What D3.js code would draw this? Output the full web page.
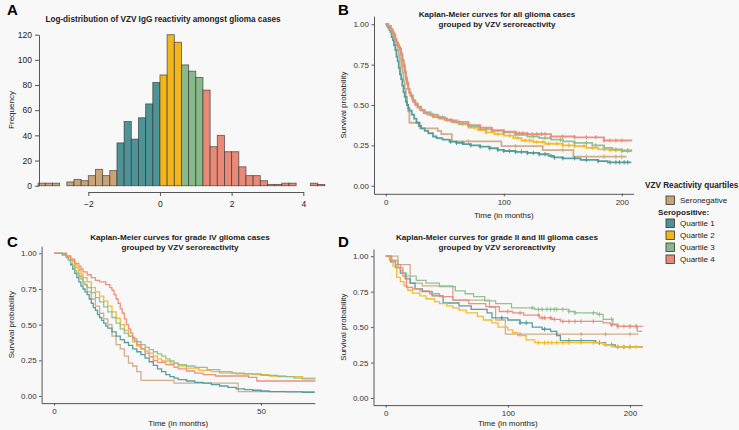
<!DOCTYPE html>
<html><head><meta charset="utf-8">
<script src="https://cdn.jsdelivr.net/npm/d3@7"></script>
<style>
html,body{margin:0;padding:0;background:#f8f8f8;}
svg{display:block;font-family:"Liberation Sans",Arial,Helvetica,sans-serif;}
</style></head>
<body>
<svg id="c" width="739" height="430"></svg>
<script>
// ---------- DATA ----------
const groups = ["Seronegative","Quartile 1","Quartile 2","Quartile 3","Quartile 4"];
const groupColors = ["#c9a479","#4e9497","#f2b51e","#88b98a","#e98a78"];
const lineColors  = ["#cfa987","#4f9a9a","#f5b628","#8dbf8e","#ec8b7b"];

// Histogram: bin start (log VZV IgG), counts; bin width 0.2
const histBinStart = [-3.4,-3.2,-3.0,-2.8,-2.6,-2.4,-2.2,-2.0,-1.8,-1.6,-1.4,-1.2,-1.0,-0.8,-0.6,-0.4,-0.2,0.0,0.2,0.4,0.6,0.8,1.0,1.2,1.4,1.6,1.8,2.0,2.2,2.4,2.6,2.8,3.0,3.2,3.4,3.6,3.8,4.0,4.2,4.4];
const histCounts   = [2,2,2,0,3,5,4,8,13,8,12,34,51,37,54,65,82,88,120,114,96,91,86,76,31,40,27,27,15,8,8,4,1,1,2,2,0,0,2,1];
const histBinWidth = 0.2;
const groupBreaks  = [-1.2, 0, 0.6, 1.2]; // seroneg | Q1 | Q2 | Q3 | Q4
const histYTicks = [0,20,40,60,80,100,120];
const histXTicks = [-2,0,2,4];
const kmYTicks = [0,0.25,0.5,0.75,1];

// KM curves [time, survival] per group (order as groups)
const kmAll = [
  [[0,1],[2,0.99],[4,0.97],[6,0.94],[8,0.9],[9,0.87],[10,0.84],[11,0.81],[12,0.78],[13,0.74],[14,0.7],[15,0.65],[16,0.6],[17,0.55],[18,0.5],[19,0.46],[20,0.39],[29,0.355],[44,0.34],[47,0.32],[56,0.275],[98,0.245],[133,0.22],[159,0.18],[204,0.18]],
  [[0,1],[1,0.99],[2,0.98],[3,0.965],[4,0.95],[5,0.92],[6,0.9],[7,0.87],[8,0.84],[9,0.8],[10,0.77],[11,0.73],[12,0.69],[13,0.66],[14,0.62],[15,0.58],[16,0.55],[17,0.52],[18,0.5],[19,0.48],[20,0.465],[22,0.44],[24,0.415],[26,0.39],[28,0.37],[30,0.355],[33,0.34],[36,0.325],[40,0.305],[43,0.295],[48,0.285],[54,0.273],[60,0.265],[66,0.258],[72,0.25],[80,0.242],[88,0.232],[95,0.222],[100,0.215],[110,0.21],[120,0.203],[130,0.195],[138,0.185],[142,0.175],[150,0.17],[165,0.16],[180,0.152],[188,0.145],[208,0.145]],
  [[0,1],[2,0.99],[4,0.97],[5,0.955],[6,0.94],[7,0.925],[8,0.905],[9,0.89],[10,0.875],[11,0.86],[12,0.84],[13,0.81],[14,0.775],[15,0.74],[16,0.7],[17,0.66],[18,0.63],[19,0.6],[20,0.575],[21,0.555],[23,0.525],[25,0.505],[27,0.485],[30,0.465],[33,0.45],[38,0.435],[44,0.42],[50,0.405],[56,0.395],[62,0.38],[70,0.36],[78,0.345],[85,0.33],[92,0.32],[100,0.31],[108,0.295],[115,0.28],[125,0.27],[135,0.26],[150,0.25],[160,0.245],[170,0.235],[180,0.225],[190,0.22],[208,0.215]],
  [[0,1],[2,0.99],[4,0.97],[5,0.955],[6,0.94],[7,0.92],[8,0.9],[9,0.885],[10,0.87],[11,0.855],[12,0.84],[13,0.81],[14,0.77],[15,0.74],[16,0.7],[17,0.66],[18,0.63],[19,0.6],[20,0.58],[21,0.56],[23,0.53],[25,0.51],[27,0.49],[30,0.47],[33,0.455],[38,0.44],[44,0.425],[50,0.41],[56,0.395],[62,0.385],[70,0.37],[80,0.35],[90,0.34],[100,0.33],[110,0.315],[120,0.305],[130,0.295],[140,0.285],[150,0.275],[160,0.265],[175,0.25],[185,0.235],[192,0.225],[200,0.215],[208,0.21]],
  [[0,1],[2,0.99],[4,0.97],[5,0.96],[6,0.95],[7,0.93],[8,0.91],[9,0.89],[10,0.875],[11,0.86],[12,0.85],[13,0.82],[14,0.78],[15,0.75],[16,0.71],[17,0.67],[18,0.64],[19,0.6],[20,0.575],[21,0.56],[22,0.54],[23,0.52],[25,0.5],[27,0.485],[29,0.47],[32,0.45],[35,0.44],[40,0.425],[46,0.415],[52,0.405],[60,0.395],[70,0.375],[80,0.36],[90,0.345],[100,0.335],[110,0.325],[120,0.32],[140,0.305],[160,0.3],[185,0.28],[208,0.275]]
];
const censorAll = [
  [70,110,150,170,185,195,200],
  [55,60,65,72,80,88,95,100,105,110,115,120,125,130,135,140,143,150,160,170,180,190,195,198,202,205],
  [60,75,85,95,105,112,118,122,128,133,138,145,150,155,160,168,175,185,190,195,200,205],
  [40,48,52,58,65,72,85,100,110,125,135,148,160,170,178,185,195,200,205],
  [45,55,62,70,80,90,100,110,113,116,120,124,128,132,135,140,150,160,170,178,185,190,195,200]
];

const kmGrade4 = [
  [[0,1],[3,0.98],[4,0.95],[5,0.9],[6,0.84],[7,0.78],[8,0.73],[9,0.68],[10,0.63],[11,0.58],[12,0.54],[13,0.5],[14,0.42],[15,0.36],[16,0.33],[17,0.28],[18,0.23],[19,0.21],[20,0.17],[21,0.11],[29,0.09],[44.5,0.03],[63,0.03]],
  [[0,1],[2,0.99],[3,0.97],[3.5,0.95],[4,0.92],[4.5,0.89],[5,0.86],[5.5,0.83],[6,0.8],[6.5,0.77],[7,0.75],[7.5,0.73],[8,0.71],[8.5,0.68],[9,0.65],[9.5,0.62],[10,0.6],[10.5,0.57],[11,0.55],[11.5,0.53],[12,0.51],[12.5,0.49],[13,0.475],[14,0.45],[15,0.42],[16,0.395],[17,0.375],[18,0.355],[19,0.33],[20,0.31],[21,0.29],[22,0.265],[23,0.24],[24,0.215],[25,0.19],[26,0.17],[27,0.15],[28,0.135],[29,0.125],[30,0.115],[32,0.105],[34,0.095],[36,0.09],[38,0.08],[40,0.07],[42,0.06],[44,0.05],[46,0.045],[48,0.04],[50,0.035],[52,0.03],[56,0.028],[60,0.025],[63,0.025]],
  [[0,1],[3,0.98],[4,0.96],[4.5,0.94],[5,0.92],[5.5,0.9],[6,0.88],[6.5,0.855],[7,0.83],[8,0.8],[9,0.76],[10,0.73],[11,0.7],[12,0.665],[13,0.63],[14,0.59],[15,0.545],[16,0.5],[17,0.46],[18,0.42],[19,0.38],[20,0.35],[21,0.33],[22,0.315],[23,0.3],[24,0.28],[25,0.26],[26,0.245],[28,0.23],[30,0.21],[32,0.195],[35,0.18],[38,0.17],[40,0.16],[44,0.155],[48,0.15],[52,0.14],[56,0.135],[60,0.125],[63,0.12]],
  [[0,1],[2,0.99],[3,0.97],[3.5,0.95],[4,0.93],[4.5,0.91],[5,0.88],[5.5,0.86],[6,0.84],[6.5,0.82],[7,0.8],[7.5,0.78],[8,0.76],[9,0.725],[10,0.69],[11,0.66],[12,0.625],[13,0.59],[14,0.55],[15,0.51],[16,0.47],[17,0.44],[18,0.42],[19,0.4],[20,0.38],[21,0.36],[22,0.34],[23,0.325],[24,0.31],[25,0.295],[26,0.28],[27,0.26],[28,0.245],[29,0.23],[30,0.22],[32,0.21],[34,0.2],[37,0.185],[40,0.17],[43,0.16],[46,0.155],[50,0.145],[54,0.135],[58,0.125],[60,0.12],[63,0.115]],
  [[0,1],[3,0.98],[4,0.96],[5,0.93],[6,0.91],[6.5,0.89],[7,0.87],[8,0.85],[9,0.83],[10,0.81],[11,0.8],[12.5,0.78],[13.5,0.76],[14,0.74],[14.5,0.71],[15,0.68],[15.5,0.65],[16,0.61],[16.5,0.58],[17,0.54],[17.5,0.5],[18,0.47],[18.5,0.44],[19,0.41],[19.5,0.385],[20,0.36],[21,0.33],[22,0.3],[23,0.275],[24,0.25],[25,0.235],[27,0.22],[29,0.2],[30,0.19],[32,0.175],[34,0.16],[36,0.15],[39,0.14],[47,0.13],[49,0.105],[63,0.1]]
];
const censorGrade4 = [[],[],[],[],[]];

const kmGrade23 = [
  [[0,1],[10,0.94],[20,0.81],[30,0.79],[55,0.69],[85,0.64],[90,0.55],[98,0.45],[207,0.45]],
  [[0,1],[4,0.96],[8,0.92],[12,0.88],[16,0.84],[20,0.81],[24,0.77],[30,0.75],[38,0.72],[47,0.67],[60,0.65],[70,0.625],[83,0.6],[87,0.565],[100,0.55],[110,0.53],[120,0.5],[128,0.485],[135,0.47],[140,0.44],[143,0.405],[172,0.39],[180,0.375],[188,0.36],[210,0.355]],
  [[0,1],[3,0.97],[6,0.93],[9,0.85],[12,0.82],[15,0.79],[18,0.76],[22,0.74],[28,0.72],[33,0.7],[40,0.68],[44,0.665],[50,0.65],[55,0.635],[60,0.62],[66,0.6],[75,0.575],[80,0.55],[87,0.53],[92,0.5],[100,0.48],[104,0.46],[108,0.44],[115,0.41],[122,0.39],[178,0.375],[185,0.36],[210,0.355]],
  [[0,1],[5,0.97],[10,0.92],[14,0.88],[17,0.86],[25,0.83],[33,0.81],[44,0.785],[57,0.755],[65,0.735],[72,0.715],[81,0.685],[90,0.665],[103,0.635],[122,0.625],[150,0.61],[155,0.6],[173,0.59],[178,0.555],[186,0.52],[190,0.505],[206,0.47],[210,0.47]],
  [[0,1],[4,0.97],[8,0.94],[12,0.9],[14,0.86],[17,0.78],[22,0.77],[28,0.755],[36,0.735],[44,0.715],[55,0.69],[68,0.665],[82,0.645],[93,0.61],[104,0.6],[113,0.585],[126,0.565],[136,0.555],[143,0.54],[178,0.53],[184,0.515],[190,0.505],[210,0.5]]
];
const censorGrade23 = [
  [110,140,160,180,200],
  [95,110,115,130,150,160,175,185,190,195,200],
  [125,130,133,136,140,145,150,160,170,180,190,195,200,205],
  [120,125,128,132,135,138,140,145,150,155,170,175,185,190,195,200,205],
  [100,110,125,128,130,135,138,145,150,155,160,170,185,190,200,205]
];

// ---------- DRAW ----------
const svg = d3.select("#c");

function groupOf(v){ let g=0; for(const b of groupBreaks){ if(v>=b-1e-9) g++; } return g; }

// Panel A
(function(){
  const x = d3.scaleLinear().domain([-2,4]).range([88.3,303.3]);
  const y = d3.scaleLinear().domain([0,120]).range([185.7,34.7]);
  const g = svg.append("g");
  g.selectAll("rect").data(histCounts).join("rect")
    .attr("x",(d,i)=>x(histBinStart[i]))
    .attr("width",(d,i)=>x(histBinStart[i]+histBinWidth)-x(histBinStart[i]))
    .attr("y",d=>y(d)).attr("height",d=>y(0)-y(d))
    .attr("fill",(d,i)=>groupColors[groupOf(histBinStart[i]+histBinWidth/2)])
    .attr("stroke","#2a2a2a").attr("stroke-opacity",0.65).attr("stroke-width",0.9)
    .style("display",d=>d>0?null:"none");
  const ya = g.append("g").attr("transform","translate(39,0)")
    .call(d3.axisLeft(y).tickValues(histYTicks).tickSize(4).tickSizeOuter(0).tickPadding(3));
  const xa = g.append("g").attr("transform","translate(0,192)")
    .call(d3.axisBottom(x).tickValues(histXTicks).tickSize(4).tickSizeOuter(0).tickPadding(5).tickFormat(d3.format("")));
  [ya,xa].forEach(a=>{a.selectAll("path,line").attr("stroke","#555");a.selectAll("text").attr("fill","#222").style("font-size","8.5px");});
  g.append("text").attr("transform","translate(14,110) rotate(-90)").attr("text-anchor","middle")
    .style("font-size","8px").attr("fill","#222").text("Frequency");
  g.append("text").attr("x",163).attr("y",22).attr("text-anchor","middle").style("font-size","8.2px").style("font-weight","bold").attr("fill","#222")
    .text("Log-distribution of VZV IgG reactivity amongst glioma cases");
  g.append("text").attr("x",7).attr("y",15).style("font-size","15px").style("font-weight","bold").text("A");
})();

function survAt(curve,t){ let s=curve[0][1]; for(const p of curve){ if(p[0]<=t) s=p[1]; else break; } return s; }

function kmPanel(o){
  const x = d3.scaleLinear().domain(o.xdom).range(o.xr);
  const y = d3.scaleLinear().domain([-0.05,1.05]).range(o.yr);
  const g = svg.append("g");
  const line = d3.line().x(d=>x(d[0])).y(d=>y(d[1])).curve(d3.curveStepAfter);
  [0,1,2,3,4].forEach(i=>{
    g.append("path").attr("d",line(o.curves[i])).attr("fill","none")
      .attr("stroke",lineColors[i]).attr("stroke-width",o.lw).attr("stroke-opacity",0.95);
    const cs = o.censor[i];
    g.selectAll(null).data(cs).join("path")
      .attr("d",t=>{const cx=x(t),cy=y(survAt(o.curves[i],t));return `M${cx},${cy-2.2}V${cy+2.2}M${cx-1.6},${cy}H${cx+1.6}`;})
      .attr("stroke",lineColors[i]).attr("stroke-width",1).attr("fill","none");
  });
  const ya = g.append("g").attr("transform",`translate(${o.xr[0]},0)`)
    .call(d3.axisLeft(y).tickValues(kmYTicks).tickFormat(d3.format(".2f")).tickSize(2.5).tickSizeOuter(0).tickPadding(2.5));
  const xa = g.append("g").attr("transform",`translate(0,${o.yr[0]})`)
    .call(d3.axisBottom(x).tickValues(o.xticks).tickFormat(d3.format("")).tickSize(2.5).tickSizeOuter(0).tickPadding(3));
  [ya,xa].forEach(a=>{a.selectAll("path,line").attr("stroke","#444").attr("stroke-width",0.9);a.selectAll("text").attr("fill","#333").style("font-size","8px");});
  g.append("text").attr("transform",`translate(${o.ylabX},${(o.yr[0]+o.yr[1])/2}) rotate(-90)`).attr("text-anchor","middle")
    .style("font-size","8px").attr("fill","#222").text("Survival probability");
  g.append("text").attr("x",(o.xr[0]+o.xr[1])/2).attr("y",o.xlabY).attr("text-anchor","middle")
    .style("font-size","8px").attr("fill","#222").text("Time (in months)");
  o.title.forEach((t,k)=>g.append("text").attr("x",o.titleX).attr("y",o.titleY+k*10).attr("text-anchor","middle")
    .style("font-size","8.1px").style("font-weight","bold").attr("fill","#222").text(t));
  g.append("text").attr("x",o.letterX).attr("y",o.letterY).style("font-size","15px").style("font-weight","bold").text(o.letter);
}

kmPanel({letter:"B",letterX:338,letterY:15,xdom:[-10,210],xr:[374,633.6],yr:[193.8,16.2],curves:kmAll,censor:censorAll,
  xticks:[0,100,200],lw:1.8,ylabX:346,xlabY:218,title:["Kaplan-Meier curves for all glioma cases","grouped by VZV seroreactivity"],titleX:497,titleY:17});
kmPanel({letter:"C",letterX:7,letterY:247,xdom:[-3,63],xr:[41.6,314.8],yr:[403.1,246.2],curves:kmGrade4,censor:censorGrade4,
  xticks:[0,50],lw:1.3,ylabX:14,xlabY:426,title:["Kaplan-Meier curves for grade IV glioma cases","grouped by VZV seroreactivity"],titleX:180,titleY:240});
kmPanel({letter:"D",letterX:338,letterY:247,xdom:[-10,210],xr:[373.5,642.2],yr:[405.1,249.1],curves:kmGrade23,censor:censorGrade23,
  xticks:[0,100,200],lw:1.3,ylabX:346,xlabY:426,title:["Kaplan-Meier curves for grade II and III glioma cases","grouped by VZV seroreactivity"],titleX:497,titleY:240});

// Legend
(function(){
  const g = svg.append("g");
  g.append("text").attr("x",645).attr("y",187.5).style("font-size","8.2px").style("font-weight","bold").attr("fill","#222").text("VZV Reactivity quartiles");
  const rows = [{i:0,y:196},{i:1,y:219},{i:2,y:231},{i:3,y:243},{i:4,y:255}];
  rows.forEach(r=>{
    g.append("rect").attr("x",666).attr("y",r.y).attr("width",8.5).attr("height",8.5)
      .attr("fill",groupColors[r.i]).attr("stroke","#333").attr("stroke-width",0.8);
    g.append("text").attr("x",680).attr("y",r.y+7).style("font-size","8px").attr("fill","#222").text(groups[r.i]);
  });
  g.append("text").attr("x",658).attr("y",215).style("font-size","8.1px").style("font-weight","bold").attr("fill","#222").text("Seropositive:");
})();
</script>
</body></html>
